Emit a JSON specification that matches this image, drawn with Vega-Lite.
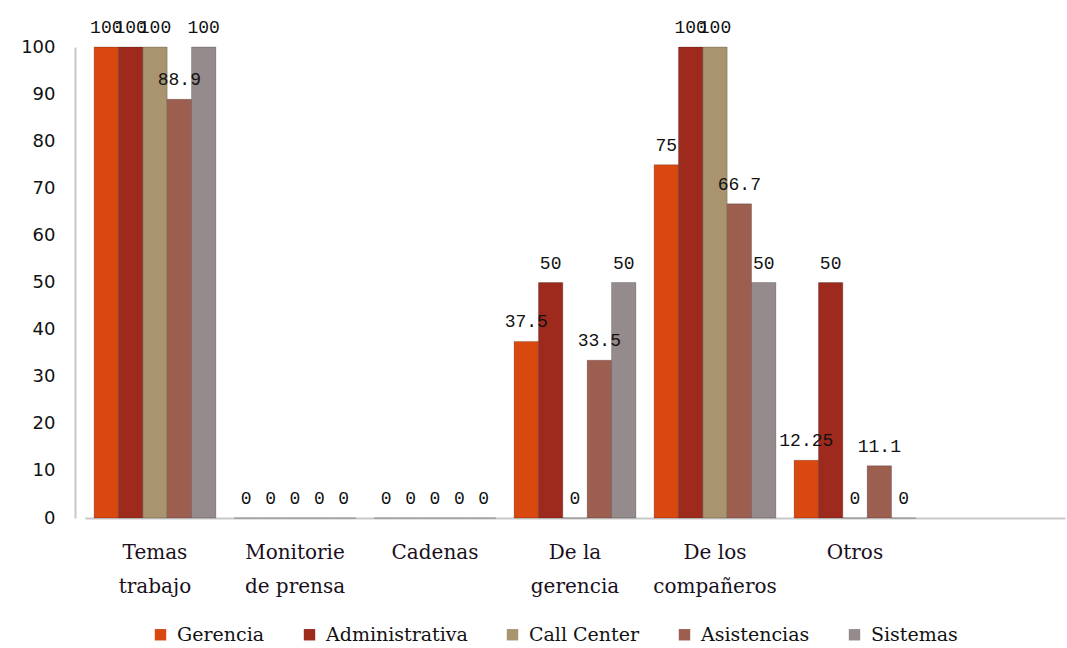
{
  "$schema": "https://vega.github.io/schema/vega-lite/v6.json",
  "autosize": "none",
  "width": 980,
  "height": 471,
  "padding": {"left": 85, "top": 47, "right": 2, "bottom": 130},
  "background": "white",
  "config": {"view": {"stroke": null}},
  "data": {
    "values": [
      {"categoria": "Temas trabajo", "serie": "Gerencia", "valor": 100},
      {"categoria": "Temas trabajo", "serie": "Administrativa", "valor": 100},
      {"categoria": "Temas trabajo", "serie": "Call Center", "valor": 100},
      {"categoria": "Temas trabajo", "serie": "Asistencias", "valor": 88.9},
      {"categoria": "Temas trabajo", "serie": "Sistemas", "valor": 100},
      {"categoria": "Monitorie de prensa", "serie": "Gerencia", "valor": 0},
      {"categoria": "Monitorie de prensa", "serie": "Administrativa", "valor": 0},
      {"categoria": "Monitorie de prensa", "serie": "Call Center", "valor": 0},
      {"categoria": "Monitorie de prensa", "serie": "Asistencias", "valor": 0},
      {"categoria": "Monitorie de prensa", "serie": "Sistemas", "valor": 0},
      {"categoria": "Cadenas", "serie": "Gerencia", "valor": 0},
      {"categoria": "Cadenas", "serie": "Administrativa", "valor": 0},
      {"categoria": "Cadenas", "serie": "Call Center", "valor": 0},
      {"categoria": "Cadenas", "serie": "Asistencias", "valor": 0},
      {"categoria": "Cadenas", "serie": "Sistemas", "valor": 0},
      {"categoria": "De la gerencia", "serie": "Gerencia", "valor": 37.5},
      {"categoria": "De la gerencia", "serie": "Administrativa", "valor": 50},
      {"categoria": "De la gerencia", "serie": "Call Center", "valor": 0},
      {"categoria": "De la gerencia", "serie": "Asistencias", "valor": 33.5},
      {"categoria": "De la gerencia", "serie": "Sistemas", "valor": 50},
      {"categoria": "De los compañeros", "serie": "Gerencia", "valor": 75},
      {"categoria": "De los compañeros", "serie": "Administrativa", "valor": 100},
      {"categoria": "De los compañeros", "serie": "Call Center", "valor": 100},
      {"categoria": "De los compañeros", "serie": "Asistencias", "valor": 66.7},
      {"categoria": "De los compañeros", "serie": "Sistemas", "valor": 50},
      {"categoria": "Otros", "serie": "Gerencia", "valor": 12.25},
      {"categoria": "Otros", "serie": "Administrativa", "valor": 50},
      {"categoria": "Otros", "serie": "Call Center", "valor": 0},
      {"categoria": "Otros", "serie": "Asistencias", "valor": 11.1},
      {"categoria": "Otros", "serie": "Sistemas", "valor": 0}
    ]
  },
  "encoding": {
    "x": {
      "field": "categoria",
      "type": "nominal",
      "sort": null,
      "scale": {
        "domain": ["Temas trabajo", "Monitorie de prensa", "Cadenas", "De la gerencia", "De los compañeros", "Otros", ""],
        "paddingInner": 0.13,
        "paddingOuter": 0.065
      },
      "axis": {
        "title": null,
        "labelAngle": 0,
        "ticks": false,
        "domainColor": "#c8c8c8",
        "domainWidth": 2,
        "labelPadding": 24,
        "labelFont": "DejaVu Serif",
        "labelFontSize": 20,
        "labelColor": "#1a1020",
        "labelLineHeight": 34,
        "labelBaseline": "top",
        "labelExpr": "datum.value == 'Temas trabajo' ? ['Temas', 'trabajo'] : datum.value == 'Monitorie de prensa' ? ['Monitorie', 'de prensa'] : datum.value == 'De la gerencia' ? ['De la', 'gerencia'] : datum.value == 'De los compañeros' ? ['De los', 'compañeros'] : datum.value"
      }
    },
    "xOffset": {
      "field": "serie",
      "type": "nominal",
      "sort": ["Gerencia", "Administrativa", "Call Center", "Asistencias", "Sistemas"]
    },
    "y": {
      "field": "valor",
      "type": "quantitative",
      "scale": {"domain": [0, 100], "nice": false},
      "axis": {
        "title": null,
        "values": [0, 10, 20, 30, 40, 50, 60, 70, 80, 90, 100],
        "grid": false,
        "ticks": false,
        "offset": 10,
        "domainColor": "#c8c8c8",
        "domainWidth": 2,
        "labelPadding": 20,
        "labelFont": "DejaVu Sans",
        "labelFontSize": 18,
        "labelColor": "#111111"
      }
    }
  },
  "layer": [
    {
      "mark": {"type": "bar", "stroke": "#00000033", "strokeWidth": 1},
      "encoding": {
        "color": {
          "field": "serie",
          "type": "nominal",
          "scale": {
            "domain": ["Gerencia", "Administrativa", "Call Center", "Asistencias", "Sistemas"],
            "range": ["#d9480f", "#9e2a1e", "#a8946e", "#9c5e4e", "#958a8c"]
          },
          "legend": {
            "title": null,
            "orient": "none",
            "direction": "horizontal",
            "legendX": 66,
            "legendY": 578,
            "symbolType": "square",
            "symbolSize": 130,
            "symbolStrokeWidth": 0,
            "labelFont": "DejaVu Serif",
            "labelFontSize": 19,
            "labelColor": "#111111",
            "columnPadding": 35,
            "labelOffset": 7
          }
        }
      }
    },
    {
      "mark": {"type": "text", "baseline": "bottom", "dy": -10, "font": "Liberation Mono", "fontSize": 18, "color": "#111111"},
      "encoding": {"text": {"field": "valor", "type": "nominal"}}
    }
  ]
}
